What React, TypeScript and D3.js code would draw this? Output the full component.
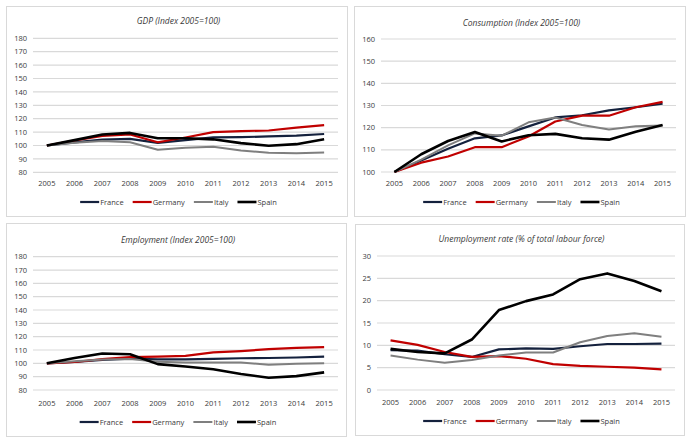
import * as d3 from "d3";
import { useRef, useEffect } from "react";

const years: string[] = ["2005", "2006", "2007", "2008", "2009", "2010", "2011", "2012", "2013", "2014", "2015"];
const countries: string[] = ["France", "Germany", "Italy", "Spain"];

// GDP, index 2005=100
const gdpFrance: number[] = [100, 102.4, 104.4, 105.0, 102.0, 104.0, 106.0, 106.2, 106.8, 107.4, 108.6];
const gdpGermany: number[] = [100, 103.7, 107.1, 108.2, 102.4, 106.0, 110.0, 110.8, 111.2, 113.4, 115.2];
const gdpItaly: number[] = [100, 102.0, 103.4, 102.4, 96.8, 98.4, 99.0, 96.2, 94.6, 94.2, 94.8];
const gdpSpain: number[] = [100, 104.0, 108.2, 109.4, 105.4, 105.4, 104.6, 101.8, 99.8, 101.0, 104.6];

// Consumption, index 2005=100
const consFrance: number[] = [100, 105.2, 110.5, 115.2, 116.5, 120.6, 124.6, 125.6, 127.8, 129.2, 130.8];
const consGermany: number[] = [100, 104.2, 107.0, 111.2, 111.2, 116.0, 122.8, 125.4, 125.4, 129.2, 131.6];
const consItaly: number[] = [100, 105.6, 112.0, 117.4, 116.4, 122.4, 124.6, 121.2, 119.2, 120.6, 121.0];
const consSpain: number[] = [100, 108.0, 114.0, 118.0, 113.8, 116.6, 117.2, 115.2, 114.6, 118.2, 121.2];

// Employment, index 2005=100
const empFrance: number[] = [100, 101.0, 102.6, 103.6, 103.0, 103.0, 103.4, 103.8, 104.0, 104.4, 105.0];
const empGermany: number[] = [100, 101.0, 103.2, 104.6, 105.0, 105.6, 108.2, 109.2, 110.6, 111.6, 112.2];
const empItaly: number[] = [100, 101.6, 102.8, 103.2, 101.2, 100.6, 100.6, 100.6, 99.0, 99.6, 100.0];
const empSpain: number[] = [100, 104.0, 107.4, 106.8, 99.4, 97.6, 95.6, 92.0, 89.2, 90.4, 93.2];

// Unemployment rate, % of total labour force
const unFrance: number[] = [8.9, 8.8, 8.0, 7.4, 9.1, 9.3, 9.2, 9.8, 10.3, 10.3, 10.4];
const unGermany: number[] = [11.1, 10.1, 8.5, 7.4, 7.6, 7.0, 5.8, 5.4, 5.2, 5.0, 4.6];
const unItaly: number[] = [7.7, 6.8, 6.1, 6.7, 7.7, 8.4, 8.4, 10.7, 12.1, 12.7, 11.9];
const unSpain: number[] = [9.2, 8.5, 8.2, 11.3, 17.9, 19.9, 21.4, 24.8, 26.1, 24.4, 22.1];

const colors: string[] = ["#14213d", "#c00000", "#7f7f7f", "#000000"];
const widths: number[] = [2.2, 2.2, 2, 2.6];
const font = "'Open Sans', sans-serif";

interface Panel {
  title: string;
  frame: number[];
  x: number[];
  y: number[];
  domain: number[];
  step: number;
  series: number[][];
  titleY: number;
  labelY: number;
  legendY: number;
}

const panels: Panel[] = [
  { title: "GDP (Index 2005=100)", frame: [6, 6, 347, 216], x: [33, 338], y: [172.3, 38.3], domain: [80, 180], step: 10,
    series: [gdpFrance, gdpGermany, gdpItaly, gdpSpain], titleY: 21, labelY: 183, legendY: 202 },
  { title: "Consumption (Index 2005=100)", frame: [354, 6, 685, 216], x: [381, 676], y: [172, 39], domain: [100, 160], step: 10,
    series: [consFrance, consGermany, consItaly, consSpain], titleY: 23, labelY: 183, legendY: 202 },
  { title: "Employment (Index 2005=100)", frame: [6, 223, 346, 436], x: [33, 338], y: [390, 256.7], domain: [80, 180], step: 10,
    series: [empFrance, empGermany, empItaly, empSpain], titleY: 240, labelY: 403, legendY: 422 },
  { title: "Unemployment rate (% of total labour force)", frame: [355, 224, 684, 435], x: [377, 675], y: [390, 256], domain: [0, 30], step: 5,
    series: [unFrance, unGermany, unItaly, unSpain], titleY: 239, labelY: 402, legendY: 421 },
];

export default function App() {
  const svgRef: any = useRef();

  useEffect(() => {
    const svg = d3.select(svgRef.current);
    svg.selectAll("*").remove();

    panels.forEach((p) => {
      const g = svg.append("g");
      const [fx0, fy0, fx1, fy1] = p.frame;

      //frame
      g.append("rect")
        .attr("x", fx0 + 0.5)
        .attr("y", fy0 + 0.5)
        .attr("width", fx1 - fx0)
        .attr("height", fy1 - fy0)
        .attr("fill", "white")
        .attr("stroke", "#d9d9d9");

      const xScale = d3.scalePoint().domain(years).range([p.x[0], p.x[1]]).padding(0.5);
      const yScale = d3.scaleLinear().domain(p.domain).range(p.y);
      const ticks = d3.range(p.domain[0], p.domain[1] + 0.001, p.step);

      //grid + y labels
      g.selectAll(".grid")
        .data(ticks)
        .join("line")
        .attr("x1", p.x[0])
        .attr("x2", p.x[1])
        .attr("y1", (d) => yScale(d))
        .attr("y2", (d) => yScale(d))
        .attr("stroke", "#d9d9d9")
        .attr("stroke-width", 1.2);
      g.selectAll(".ylab")
        .data(ticks)
        .join("text")
        .attr("x", p.x[0] - 6)
        .attr("y", (d) => yScale(d))
        .attr("dy", "0.35em")
        .attr("text-anchor", "end")
        .style("font", `7.5px ${font}`)
        .attr("fill", "#3a3a3a")
        .text((d) => d);

      //x labels
      g.selectAll(".xlab")
        .data(years)
        .join("text")
        .attr("x", (d) => xScale(d) as number)
        .attr("y", p.labelY)
        .attr("dy", "0.35em")
        .attr("text-anchor", "middle")
        .style("font", `7.5px ${font}`)
        .attr("fill", "#3a3a3a")
        .text((d) => d);

      //title
      g.append("text")
        .attr("x", (fx0 + fx1) / 2 + 2)
        .attr("y", p.titleY)
        .attr("dy", "0.35em")
        .attr("text-anchor", "middle")
        .style("font", `italic 8.5px ${font}`)
        .attr("fill", "#3a3a3a")
        .text(p.title);

      //lines
      const line = d3
        .line<number>()
        .x((d, i) => xScale(years[i]) as number)
        .y((d) => yScale(d));
      p.series.forEach((s, i) => {
        g.append("path")
          .attr("d", line(s))
          .attr("fill", "none")
          .attr("stroke", colors[i])
          .attr("stroke-width", widths[i])
          .attr("stroke-linejoin", "round");
      });

      //legend
      const leg = g.append("g");
      let cx = 0;
      countries.forEach((c, i) => {
        const item = leg.append("g").attr("transform", `translate(${cx},0)`);
        item.append("line")
          .attr("x1", 0)
          .attr("x2", 19)
          .attr("y1", p.legendY)
          .attr("y2", p.legendY)
          .attr("stroke", colors[i])
          .attr("stroke-width", widths[i]);
        const t = item.append("text")
          .attr("x", 20)
          .attr("y", p.legendY)
          .attr("dy", "0.35em")
          .style("font", `7.5px ${font}`)
          .attr("fill", "#3a3a3a")
          .text(c);
        const tw = (t.node() as SVGTextElement).getComputedTextLength();
        cx += 20 + tw + 9;
      });
      const total = cx - 9;
      leg.attr("transform", `translate(${(fx0 + fx1) / 2 + 2 - total / 2},0)`);
    });
  }, []);

  return (
    <svg
      ref={svgRef}
      width={696}
      height={442}
      style={{ position: "absolute", left: 0, top: 0, background: "white" }}
    ></svg>
  );
}
